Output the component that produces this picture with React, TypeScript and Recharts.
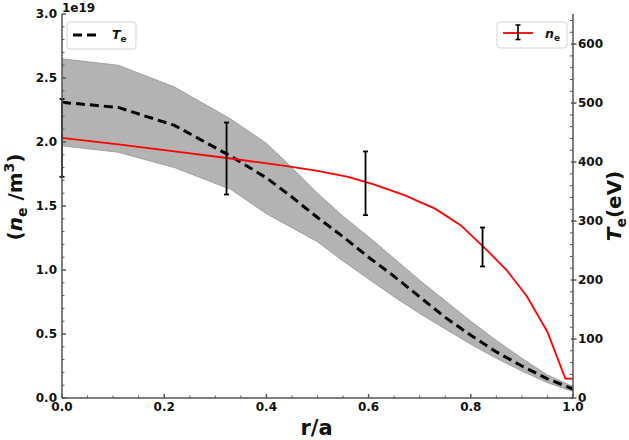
import React from 'react';
import { ComposedChart, Line, Area, XAxis, YAxis, ErrorBar, Legend } from 'recharts';

const FONT = '"DejaVu Sans", Verdana, sans-serif';
const AXIS = '#555555';

// x ticks (r/a)
const xMajor = [0, 0.2, 0.4, 0.6, 0.8, 1.0];
const xMinor = [0.05, 0.1, 0.15, 0.25, 0.3, 0.35, 0.45, 0.5, 0.55, 0.65, 0.7, 0.75, 0.85, 0.9, 0.95];
// left ticks (n_e, 1e19 /m^3)
const leftMajor = [0, 0.5, 1.0, 1.5, 2.0, 2.5, 3.0];
const leftMinor = [0.1, 0.2, 0.3, 0.4, 0.6, 0.7, 0.8, 0.9, 1.1, 1.2, 1.3, 1.4, 1.6, 1.7, 1.8, 1.9, 2.1, 2.2, 2.3, 2.4, 2.6, 2.7, 2.8, 2.9];
// right ticks (T_e, eV)
const rightMajor = [0, 100, 200, 300, 400, 500, 600];
const rightMinor = [20, 40, 60, 80, 120, 140, 160, 180, 220, 240, 260, 280, 320, 340, 360, 380, 420, 440, 460, 480, 520, 540, 560, 580, 620, 640];

// dashed black profile with grey band (left axis units)
const rTe = [0, 0.11, 0.22, 0.33, 0.4, 0.45, 0.5, 0.55, 0.6, 0.65, 0.7, 0.75, 0.8, 0.85, 0.9, 0.95, 1.0];
const teMid = [2.31, 2.27, 2.13, 1.89, 1.72, 1.57, 1.41, 1.26, 1.1, 0.95, 0.79, 0.63, 0.49, 0.36, 0.25, 0.15, 0.07];
const teHi = [2.65, 2.6, 2.43, 2.18, 1.99, 1.8, 1.6, 1.42, 1.26, 1.09, 0.92, 0.76, 0.6, 0.45, 0.31, 0.18, 0.09];
const teLo = [1.97, 1.92, 1.8, 1.63, 1.44, 1.33, 1.22, 1.07, 0.93, 0.79, 0.66, 0.54, 0.42, 0.31, 0.21, 0.12, 0.05];

// red profile (right axis units, eV)
const rNe = [0, 0.11, 0.22, 0.33, 0.44, 0.5, 0.56, 0.61, 0.67, 0.73, 0.78, 0.83, 0.87, 0.91, 0.95, 0.985, 1.0];
const neVal = [441, 430, 418, 406, 393, 385, 375, 362, 344, 321, 293, 252, 217, 172, 112, 33, 33];

// error bars (right axis units)
const errR = [0, 0.322, 0.594, 0.823];
const errY = [441, 406, 364, 256];
const errD = [66, 61, 54, 33];

const xTicks = [...xMajor, ...xMinor].sort((a, b) => a - b);
const leftTicks = [...leftMajor, ...leftMinor].sort((a, b) => a - b);
const rightTicks = [...rightMajor, ...rightMinor].sort((a, b) => a - b);

const bandData = rTe.map((r, i) => ({ r, band: [teLo[i], teHi[i]] }));
const teData = rTe.map((r, i) => ({ r, te: teMid[i] }));
const neData = rNe.map((r, i) => ({ r, ne: neVal[i] }));
const errData = errR.map((r, i) => ({ r, y: errY[i], d: errD[i] }));

const txt = { fontFamily: FONT, fontWeight: 'bold' as const, fill: '#111' };

const BottomTick = (p: any) => {
  const { x, y, payload } = p;
  const v = payload.value;
  const major = xMajor.includes(v);
  return (
    <g>
      <line x1={x} y1={y} x2={x} y2={y - (major ? 4 : 2.5)} stroke={AXIS} strokeWidth={major ? 1.5 : 1} />
      {major && (
        <text x={x} y={y + 9} textAnchor="middle" dominantBaseline="central" fontSize={12} {...txt}>
          {v.toFixed(1)}
        </text>
      )}
    </g>
  );
};

const TopTick = (p: any) => {
  const { x, y, payload } = p;
  const major = xMajor.includes(payload.value);
  return <line x1={x} y1={y} x2={x} y2={y + (major ? 4 : 2.5)} stroke={AXIS} strokeWidth={major ? 1.5 : 1} />;
};

const LeftTick = (p: any) => {
  const { x, y, payload } = p;
  const v = payload.value;
  const major = leftMajor.includes(v);
  return (
    <g>
      <line x1={x} y1={y} x2={x + (major ? 4 : 2.5)} y2={y} stroke={AXIS} strokeWidth={major ? 1.5 : 1} />
      {major && (
        <text x={x - 5} y={y} textAnchor="end" dominantBaseline="central" fontSize={12} {...txt}>
          {v.toFixed(1)}
        </text>
      )}
    </g>
  );
};

const RightTick = (p: any) => {
  const { x, y, payload } = p;
  const v = payload.value;
  const major = rightMajor.includes(v);
  return (
    <g>
      {major ? (
        <line x1={x - 2} y1={y} x2={x + 3.5} y2={y} stroke={AXIS} strokeWidth={1.5} />
      ) : (
        <line x1={x - 3} y1={y} x2={x} y2={y} stroke={AXIS} strokeWidth={1} />
      )}
      {major && (
        <text x={x + 5} y={y} textAnchor="start" dominantBaseline="central" fontSize={12} {...txt}>
          {String(v)}
        </text>
      )}
    </g>
  );
};

const LeftLabel = (p: any) => {
  const vb = (p && p.viewBox) || { x: 0, y: 14, width: 62, height: 384 };
  const cx = vb.x + 22;
  const cy = vb.y + vb.height / 2 - 9;
  return (
    <g>
      <text transform={`translate(${cx},${cy}) rotate(-90)`} textAnchor="middle" fontSize={20} {...txt}>
        (<tspan fontStyle="italic">n</tspan>
        <tspan fontSize={14} dy={5}>e</tspan>
        <tspan dy={-5}> /m</tspan>
        <tspan fontSize={14} dy={-8}>3</tspan>
        <tspan dy={8}>)</tspan>
      </text>
      <text x={vb.x + vb.width} y={vb.y - 2} textAnchor="start" fontSize={12} {...txt}>
        1e19
      </text>
    </g>
  );
};

const RightLabel = (p: any) => {
  const vb = (p && p.viewBox) || { x: 573, y: 14, width: 56, height: 384 };
  const cx = vb.x + 48;
  const cy = vb.y + vb.height / 2;
  return (
    <text transform={`translate(${cx},${cy}) rotate(-90)`} textAnchor="middle" fontSize={20} {...txt}>
      <tspan fontStyle="italic">T</tspan>
      <tspan fontSize={14} dy={5}>e</tspan>
      <tspan dy={-5}>(eV)</tspan>
    </text>
  );
};

const BottomLabel = (p: any) => {
  const vb = (p && p.viewBox) || { x: 62, y: 398, width: 511, height: 42 };
  return (
    <text x={vb.x + vb.width / 2 - 1} y={vb.y + 37} textAnchor="middle" fontSize={21} {...txt}>
      r/a
    </text>
  );
};

const LegendOverlay = () => (
  <svg width={629} height={60} style={{ display: 'block' }}>
    <rect x={67} y={22} width={69} height={27} rx={3} fill="white" stroke="#d4d4d4" strokeWidth={1} />
    <line x1={73} y1={35} x2={97} y2={35} stroke="black" strokeWidth={3} strokeDasharray="9 5" />
    <text x={112} y={39} fontSize={12.5} {...txt}>
      <tspan fontStyle="italic">T</tspan>
      <tspan fontSize={9} dy={3}>e</tspan>
    </text>
    <rect x={497} y={22} width={70} height={26} rx={3} fill="white" stroke="#d4d4d4" strokeWidth={1} />
    <line x1={503} y1={33} x2={533} y2={33} stroke="red" strokeWidth={1.8} />
    <line x1={518} y1={25} x2={518} y2={39.5} stroke="black" strokeWidth={1.6} />
    <line x1={515.5} y1={25} x2={520.5} y2={25} stroke="black" strokeWidth={1.6} />
    <line x1={515.5} y1={39.5} x2={520.5} y2={39.5} stroke="black" strokeWidth={1.6} />
    <text x={545} y={38} fontSize={12.5} {...txt}>
      <tspan fontStyle="italic">n</tspan>
      <tspan fontSize={9} dy={3}>e</tspan>
    </text>
  </svg>
);

export default function App() {
  return (
    <div style={{ position: 'absolute', left: 0, top: 0, width: 629, height: 440, background: 'white' }}>
      <ComposedChart width={629} height={440} margin={{ top: 14, right: 0, bottom: 0, left: 0 }}>
        <XAxis
          xAxisId="x"
          dataKey="r"
          type="number"
          domain={[0, 1]}
          ticks={xTicks}
          interval={0}
          tickSize={0}
          tickMargin={0}
          tickLine={false}
          tick={BottomTick}
          height={42}
          axisLine={{ stroke: AXIS, strokeWidth: 1.5 }}
          label={<BottomLabel />}
        />
        <XAxis
          xAxisId="top"
          orientation="top"
          dataKey="r"
          type="number"
          domain={[0, 1]}
          ticks={xTicks}
          interval={0}
          tickSize={0}
          tickMargin={0}
          tickLine={false}
          tick={TopTick}
          height={0}
          axisLine={{ stroke: AXIS, strokeWidth: 1.5 }}
        />
        <YAxis
          yAxisId="left"
          type="number"
          domain={[0, 3]}
          ticks={leftTicks}
          interval={0}
          tickSize={0}
          tickMargin={0}
          tickLine={false}
          tick={LeftTick}
          width={62}
          axisLine={{ stroke: AXIS, strokeWidth: 1.5 }}
          label={<LeftLabel />}
        />
        <YAxis
          yAxisId="right"
          orientation="right"
          type="number"
          domain={[0, 651]}
          ticks={rightTicks}
          interval={0}
          tickSize={0}
          tickMargin={0}
          tickLine={false}
          tick={RightTick}
          width={56}
          axisLine={{ stroke: AXIS, strokeWidth: 1.5 }}
          label={<RightLabel />}
        />
        <Legend
          layout="vertical"
          align="center"
          verticalAlign="middle"
          content={() => <LegendOverlay />}
          wrapperStyle={{ position: 'absolute', left: 0, top: 0, width: 629, height: 60, margin: 0, padding: 0 }}
        />
        <Area
          data={bandData}
          xAxisId="x"
          yAxisId="left"
          dataKey="band"
          type="linear"
          fill="#b3b3b3"
          fillOpacity={1}
          stroke="#939393"
          strokeWidth={0.8}
          isAnimationActive={false}
          dot={false}
          activeDot={false}
        />
        <Line
          data={teData}
          xAxisId="x"
          yAxisId="left"
          dataKey="te"
          type="linear"
          stroke="black"
          strokeWidth={3}
          strokeDasharray="9 5"
          dot={false}
          activeDot={false}
          isAnimationActive={false}
        />
        <Line
          data={neData}
          xAxisId="x"
          yAxisId="right"
          dataKey="ne"
          type="linear"
          stroke="#ff0000"
          strokeWidth={1.8}
          dot={false}
          activeDot={false}
          isAnimationActive={false}
        />
        <Line
          data={errData}
          xAxisId="x"
          yAxisId="right"
          dataKey="y"
          stroke="none"
          dot={false}
          activeDot={false}
          isAnimationActive={false}
        >
          <ErrorBar dataKey="d" direction="y" width={2.5} strokeWidth={1.8} stroke="black" />
        </Line>
      </ComposedChart>
    </div>
  );
}
